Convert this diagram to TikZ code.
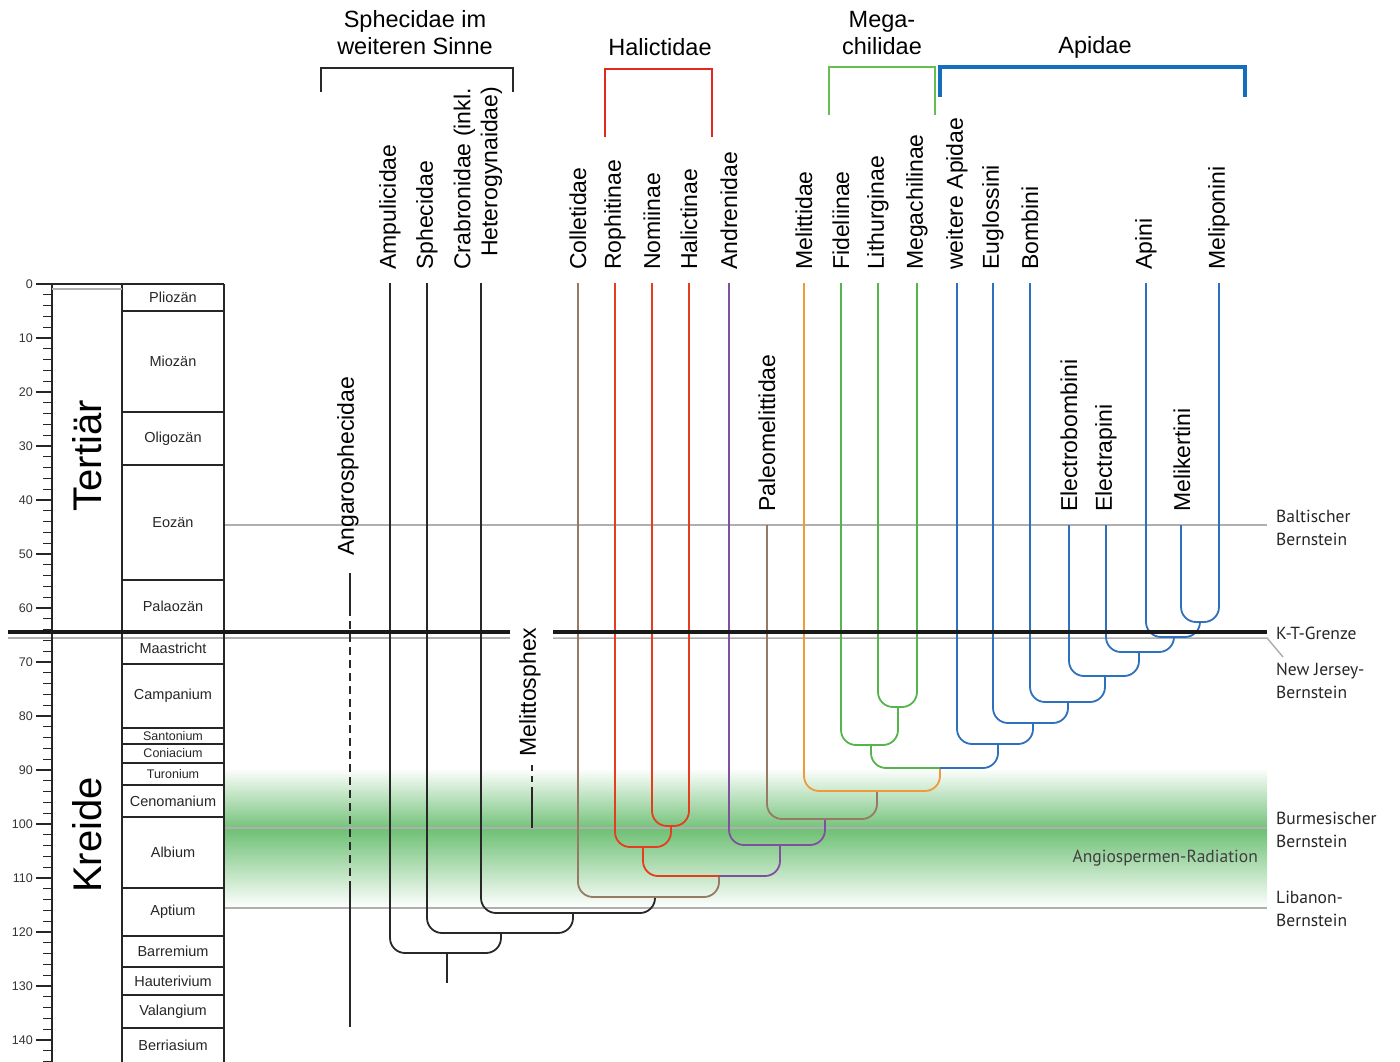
\documentclass[tikz,border=0pt]{standalone}
\usepackage{fontspec}
\setmainfont{Liberation Sans}
\newfontfamily\bernfont{PT Sans}
\usepackage{xcolor}
\usetikzlibrary{calc}

\definecolor{astschwarz}{RGB}{40,40,40}
\definecolor{astbraun}{RGB}{150,122,100}
\definecolor{astrot}{RGB}{228,62,30}
\definecolor{astlila}{RGB}{128,80,160}
\definecolor{astorange}{RGB}{240,155,55}
\definecolor{astgruen}{RGB}{85,180,75}
\definecolor{astblau}{RGB}{45,112,190}
\definecolor{klammerrot}{RGB}{228,40,30}
\definecolor{klammergruen}{RGB}{100,190,80}
\definecolor{klammerblau}{RGB}{20,110,190}
\definecolor{linie}{RGB}{175,175,175}
\definecolor{bandgruen}{RGB}{112,193,118}

\begin{document}
\begin{tikzpicture}[x=1pt, y=-1pt,
    taxon/.style={rotate=90, anchor=west, inner sep=0pt, align=center, font=\fontsize{23}{27}\selectfont},
    gruppe/.style={align=center, inner sep=0pt, font=\fontsize{23.5}{27}\selectfont},
    stufe/.style={inner sep=0pt, font=\fontsize{14.5}{16}\selectfont, text=black!85},
    kleinstufe/.style={inner sep=0pt, font=\fontsize{12.5}{14}\selectfont, text=black!85},
    aera/.style={rotate=90, inner sep=0pt, font=\fontsize{40}{44}\selectfont},
    zahl/.style={anchor=east, inner sep=0pt, font=\fontsize{12.5}{14}\selectfont, text=black!80},
    bern/.style={anchor=west, align=left, inner sep=0pt, font=\bernfont\fontsize{17.5}{23}\selectfont, text=black!85},
    saeule/.style={line width=1.8pt, black!85},
    grau/.style={line width=1.5pt, linie},
    ast/.style={line width=1.8pt, rounded corners=15pt},
    klammer/.style={line width=2.8pt}
]
\useasboundingbox (0,0) rectangle (1400,1062);

% Angiospermen-Band
\shade[top color=white, bottom color=bandgruen] (224,768) rectangle (1267,830);
\shade[top color=bandgruen, bottom color=white] (224,830) rectangle (1267,908);
\node[font=\bernfont\fontsize{17.5}{20}\selectfont, text=black!75, anchor=east, inner sep=0pt] (angio) at (1258,858) {Angiospermen-Radiation};

% Bernstein-Linien
\draw[grau] (224,525) -- (1267,525);
\draw[grau] (224,828) -- (1267,828);
\draw[grau] (224,908) -- (1267,908);
\draw[grau] (8,638) -- (510,638);
\draw[grau] (553,638) -- (1267,638) -- (1283,657);

% Zeitskala
\draw[saeule] (52,284) -- (52,1062);
\foreach \m in {0,2,...,144}
  \draw[line width=1.3pt, black!85] (43,{284+5.4*\m}) -- (52,{284+5.4*\m});
\foreach \m in {0,10,...,140} {
  \draw[line width=1.3pt, black!85] (36,{284+5.4*\m}) -- (52,{284+5.4*\m});
  \node[zahl] (z\m) at (33,{284+5.4*\m}) {\m};
}

% Aeren und Stufen
\draw[saeule] (122,284) -- (122,1062);
\draw[saeule] (224,284) -- (224,1062);
\draw[saeule] (52,284) -- (224,284);
\draw[line width=1.2pt, linie] (52,289) -- (122,289);
\foreach \y in {311,412,465,580,664,728,744,763,785,817,888,936,967,995,1028}
  \draw[saeule] (122,\y) -- (224,\y);

\node[aera] (tertiaer) at (87,456) {Tertiär};
\node[aera] (kreide) at (87,835) {Kreide};

\node[stufe] (plio) at (173,297.5) {Pliozän};
\node[stufe] (mio) at (173,361.5) {Miozän};
\node[stufe] (oligo) at (173,438.5) {Oligozän};
\node[stufe] (eo) at (173,522.5) {Eozän};
\node[stufe] (palaeo) at (173,606.5) {Palaozän};
\node[stufe] (maas) at (173,648.5) {Maastricht};
\node[stufe] (camp) at (173,696) {Campanium};
\node[kleinstufe] (santo) at (173,736) {Santonium};
\node[kleinstufe] (conia) at (173,753.5) {Coniacium};
\node[kleinstufe] (turo) at (173,774) {Turonium};
\node[stufe] (ceno) at (173,801) {Cenomanium};
\node[stufe] (alb) at (173,852.5) {Albium};
\node[stufe] (apt) at (173,912) {Aptium};
\node[stufe] (barr) at (173,951.5) {Barremium};
\node[stufe] (haut) at (173,981) {Hauterivium};
\node[stufe] (valan) at (173,1011.5) {Valangium};
\node[stufe] (berr) at (173,1045) {Berriasium};

% Gruppenklammern
\node[gruppe] (sphecsl) at (415,33) {Sphecidae im\\weiteren Sinne};
\node[gruppe] (halic) at (660,47) {Halictidae};
\node[gruppe] (megach) at (882,33) {Mega-\\chilidae};
\node[gruppe] (apid) at (1095,47) {Apidae};

\coordinate (kl1a) at (321,92);  \coordinate (kl1b) at (513,92);
\coordinate (kl2a) at (605,137); \coordinate (kl2b) at (712,137);
\coordinate (kl3a) at (829,115); \coordinate (kl3b) at (935,115);
\coordinate (kl4a) at (940,97);  \coordinate (kl4b) at (1245,97);
\draw[klammer, line width=2.4pt, astschwarz] (kl1a) -- ++(0,-24) -| (kl1b);
\draw[klammer, klammerrot] (kl2a) -- ++(0,-68) -| (kl2b);
\draw[klammer, line width=2.4pt, klammergruen] (kl3a) -- ++(0,-48) -| (kl3b);
\draw[klammer, line width=3.4pt, klammerblau] (kl4a) -- ++(0,-30) -| (kl4b);

% Taxa
\node[taxon] (ampL) at (390,270) {Ampulicidae};
\node[taxon] (sphL) at (427,270) {Sphecidae};
\node[taxon, align=left] (craL) at (478,270) {Crabronidae (inkl.\\\hspace*{13pt}Heterogynaidae)};
\node[taxon] (colL) at (578,270) {Colletidae};
\node[taxon] (rophL) at (615,270) {Rophitinae};
\node[taxon] (nomL) at (652,270) {Nomiinae};
\node[taxon] (halL) at (689,270) {Halictinae};
\node[taxon] (andL) at (729,270) {Andrenidae};
\node[taxon] (melL) at (804,270) {Melittidae};
\node[taxon] (fidL) at (841,270) {Fideliinae};
\node[taxon] (litL) at (878,270) {Lithurginae};
\node[taxon] (megL) at (917,270) {Megachilinae};
\node[taxon] (weitL) at (957,270) {weitere Apidae};
\node[taxon] (eugL) at (993,270) {Euglossini};
\node[taxon] (bomL) at (1030,270) {Bombini};
\node[taxon] (apiL) at (1146,270) {Apini};
\node[taxon] (mpL) at (1219,270) {Meliponini};

% Fossile Taxa
\node[taxon] (paleoL) at (767,512) {Paleomelittidae};
\node[taxon] (ebL) at (1069,512) {Electrobombini};
\node[taxon] (eaL) at (1106,512) {Electrapini};
\node[taxon] (mkL) at (1182,512) {Melikertini};
\node[taxon] (angL) at (348,556) {Angarosphecidae};
\node[taxon] (mxL) at (530,757) {Melittosphex};

% Spitzen
\coordinate (amp) at (390,283);
\coordinate (sph) at (427,283);
\coordinate (cra) at (481,283);
\coordinate (col) at (578,283);
\coordinate (roph) at (615,283);
\coordinate (nom) at (652,283);
\coordinate (hal) at (689,283);
\coordinate (and) at (729,283);
\coordinate (paleo) at (767,525);
\coordinate (mel) at (804,283);
\coordinate (fid) at (841,283);
\coordinate (lit) at (878,283);
\coordinate (meg) at (917,283);
\coordinate (weit) at (957,283);
\coordinate (eug) at (993,283);
\coordinate (bom) at (1030,283);
\coordinate (eb) at (1069,525);
\coordinate (ea) at (1106,525);
\coordinate (api) at (1146,283);
\coordinate (mk) at (1181,525);
\coordinate (mp) at (1219,283);

% Innere Knoten
\coordinate (wurzel) at (447,983);
\coordinate (kA) at (447,953);
\coordinate (kB) at (501,933);
\coordinate (kC) at (573,913);
\coordinate (kD) at (655,897);
\coordinate (kE) at (719,876);
\coordinate (kF) at (643,847);
\coordinate (kH) at (671,826);
\coordinate (kG) at (780,845);
\coordinate (kI) at (825,819);
\coordinate (kJ) at (877,791);
\coordinate (kK) at (940,768);
\coordinate (kL) at (871,745);
\coordinate (kN) at (898,707);
\coordinate (kM) at (998,744);
\coordinate (kO) at (1033,723);
\coordinate (kP) at (1068,702);
\coordinate (kQ) at (1105,676);
\coordinate (kR) at (1139,652);
\coordinate (kS) at (1174,637);
\coordinate (kT) at (1200,622);

% Sphecidae s.l.
\draw[ast, astschwarz] (kA) -- (wurzel);
\draw[ast, astschwarz] (amp) |- (kA);  \draw[ast, astschwarz] (kA) -| (kB);
\draw[ast, astschwarz] (sph) |- (kB);  \draw[ast, astschwarz] (kB) -| (kC);
\draw[ast, astschwarz] (cra) |- (kC);  \draw[ast, astschwarz] (kC) -| (kD);

% Bienen
\draw[ast, astbraun] (col) |- (kD);    \draw[ast, astbraun] (kD) -| (kE);
\draw[ast, astrot] (kF) |- (kE);       \draw[ast, astlila] (kE) -| (kG);
\draw[ast, astrot] (roph) |- (kF);     \draw[ast, astrot] (kF) -| (kH);
\draw[ast, astrot] (nom) |- (kH);      \draw[ast, astrot] (kH) -| (hal);
\draw[ast, astlila] (and) |- (kG);     \draw[ast, astlila] (kG) -| (kI);
\draw[ast, astbraun] (paleo) |- (kI);  \draw[ast, astbraun] (kI) -| (kJ);
\draw[ast, astorange] (mel) |- (kJ);   \draw[ast, astorange] (kJ) -| (kK);
\draw[ast, astgruen] (kL) |- (kK);     \draw[ast, astblau] (kK) -| (kM);
\draw[ast, astgruen] (fid) |- (kL);    \draw[ast, astgruen] (kL) -| (kN);
\draw[ast, astgruen] (lit) |- (kN);    \draw[ast, astgruen] (kN) -| (meg);
\draw[ast, astblau] (weit) |- (kM);    \draw[ast, astblau] (kM) -| (kO);
\draw[ast, astblau] (eug) |- (kO);     \draw[ast, astblau] (kO) -| (kP);
\draw[ast, astblau] (bom) |- (kP);     \draw[ast, astblau] (kP) -| (kQ);
\draw[ast, astblau] (eb) |- (kQ);      \draw[ast, astblau] (kQ) -| (kR);
\draw[ast, astblau] (ea) |- (kR);      \draw[ast, astblau] (kR) -| (kS);
\draw[ast, astblau] (api) |- (kS);     \draw[ast, astblau] (kS) -| (kT);
\draw[ast, astblau] (mk) |- (kT);      \draw[ast, astblau] (kT) -| (mp);

% Fossilbelege
\coordinate (angOben) at (350,573);
\coordinate (angStrich) at (350,608);
\coordinate (angFest) at (350,887);
\coordinate (angUnten) at (350,1027);
\draw[line width=1.8pt, astschwarz] (angOben) -- (angStrich);
\draw[line width=1.8pt, astschwarz, dash pattern=on 8pt off 5pt] (angStrich) -- (angFest);
\draw[line width=1.8pt, astschwarz] (angFest) -- (angUnten);
\coordinate (mxOben) at (532,765);
\coordinate (mxFest) at (532,790);
\coordinate (mxUnten) at (532,828);
\draw[line width=1.8pt, astschwarz, dash pattern=on 6pt off 5pt] (mxOben) -- (mxFest);
\draw[line width=1.8pt, astschwarz] (mxFest) -- (mxUnten);

% K-T-Grenze
\draw[line width=4pt, black!90] (8,632) -- (510,632);
\draw[line width=4pt, black!90] (553,632) -- (1267,632);

% Bernstein-Fundstellen
\node[bern] (balt) at (1276,527.5) {Baltischer\\Bernstein};
\node[bern] (kt) at (1276,633) {K-T-Grenze};
\node[bern] (nj) at (1276,680.5) {New Jersey-\\Bernstein};
\node[bern] (burm) at (1276,829.5) {Burmesischer\\Bernstein};
\node[bern] (liba) at (1276,908.5) {Libanon-\\Bernstein};

\end{tikzpicture}
\end{document}
